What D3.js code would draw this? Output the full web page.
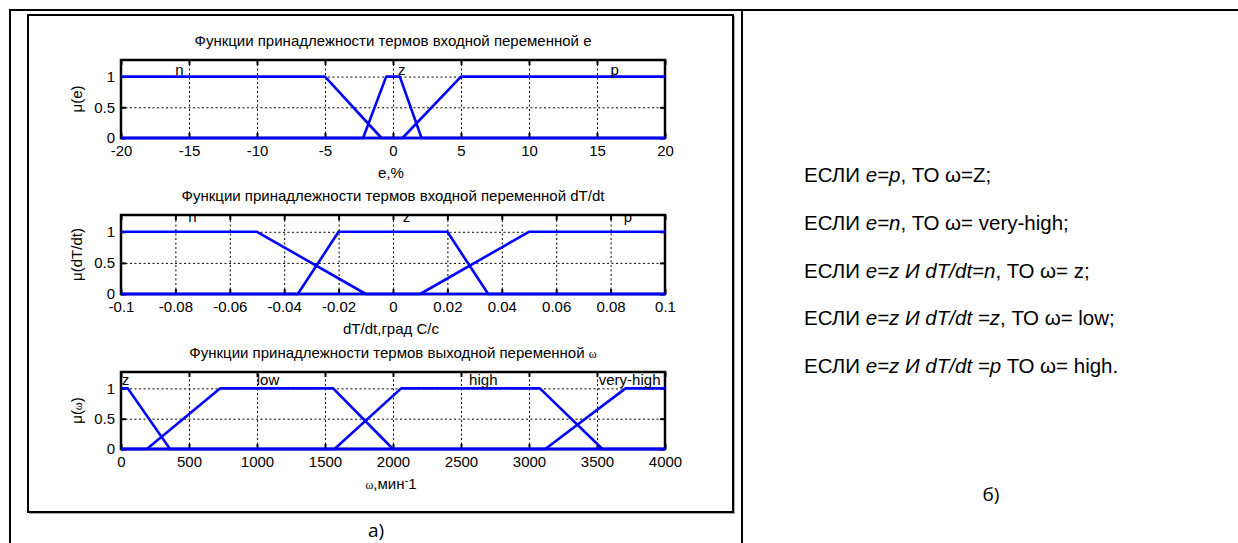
<!DOCTYPE html>
<html>
<head>
<meta charset="utf-8">
<script src="https://cdn.jsdelivr.net/npm/d3@7"></script>
<style>
  html, body { margin: 0; padding: 0; background: #fff; }
  svg { display: block; }
  text { font-family: "Liberation Sans", Arial, sans-serif; fill: #000; }
</style>
</head>
<body>
<svg id="chart" width="1238" height="543"></svg>
<script>
// ---------------- DATA ----------------
const yTicks = [0, 0.5, 1];
const yTickLabels = ["0", "0.5", "1"];

const eTicks = [-20, -15, -10, -5, 0, 5, 10, 15, 20];
const eTickLabels = ["-20", "-15", "-10", "-5", "0", "5", "10", "15", "20"];
const eTerms = ["n", "z", "p"];
const eParams = [[-20, -20, -5, -0.85], [-2.2, -0.5, 0.5, 2.1], [0.7, 5, 20, 20]];
const eLabelX = [-15.7, 0.65, 16.3];

const dTicks = [-0.1, -0.08, -0.06, -0.04, -0.02, 0, 0.02, 0.04, 0.06, 0.08, 0.1];
const dTickLabels = ["-0.1", "-0.08", "-0.06", "-0.04", "-0.02", "0", "0.02", "0.04", "0.06", "0.08", "0.1"];
const dTerms = ["n", "z", "p"];
const dParams = [[-0.1, -0.1, -0.05, -0.01], [-0.035, -0.02, 0.02, 0.035], [0.01, 0.05, 0.1, 0.1]];
const dLabelX = [-0.0737, 0.005, 0.0864];

const wTicks = [0, 500, 1000, 1500, 2000, 2500, 3000, 3500, 4000];
const wTickLabels = ["0", "500", "1000", "1500", "2000", "2500", "3000", "3500", "4000"];
const wTerms = ["z", "low", "high", "very-high"];
const wParams = [[0, 0, 50, 360], [190, 730, 1560, 2000], [1570, 2060, 3080, 3540], [3120, 3710, 4000, 4000]];
const wLabelX = [33, 1081, 2664, 3740];

const titles = [
  [["Функции принадлежности термов входной переменной e", false]],
  [["Функции принадлежности термов входной переменной dT/dt", false]],
  [["Функции принадлежности термов выходной переменной ", false], ["ω", true]]
];
const yLabels = [
  [["μ(e)", false]],
  [["μ(dT/dt)", false]],
  [["μ(", false], ["ω", true], [")", false]]
];

const rules = [
  [["ЕСЛИ ", 0], ["e=p", 1], [", ТО ω=Z;", 0]],
  [["ЕСЛИ ", 0], ["e=n", 1], [", ТО ω= very-high;", 0]],
  [["ЕСЛИ ", 0], ["e=z И dT/dt=n", 1], [", ТО ω= z;", 0]],
  [["ЕСЛИ ", 0], ["e=z И dT/dt =z", 1], [", ТО ω= low;", 0]],
  [["ЕСЛИ ", 0], ["e=z И dT/dt =p", 1], [" ТО ω= high.", 0]]
];

// ---------------- LAYOUT ----------------
const svg = d3.select("#chart");
svg.append("rect").attr("width", 1238).attr("height", 543).attr("fill", "#fff");

// table lines
const tbl = svg.append("g").attr("stroke", "#000").attr("stroke-width", 2);
tbl.append("line").attr("x1", 10).attr("x2", 1238).attr("y1", 10).attr("y2", 10);
tbl.append("line").attr("x1", 10).attr("x2", 10).attr("y1", 9).attr("y2", 543);
tbl.append("line").attr("x1", 742).attr("x2", 742).attr("y1", 9).attr("y2", 543);

// inner figure frame
svg.append("rect").attr("x", 29.5).attr("y", 16.5).attr("width", 705).attr("height", 497)
  .attr("fill", "none").attr("stroke", "#aaa").attr("stroke-width", 1);
svg.append("rect").attr("x", 28).attr("y", 15).attr("width", 705).attr("height", 497)
  .attr("fill", "#fff").attr("stroke", "#000").attr("stroke-width", 2);

svg.append("text").attr("x", 376).attr("y", 537).attr("text-anchor", "middle")
  .style("font-family", "'Open Sans', 'Noto Sans', sans-serif").style("font-size", "19px").text("а)");
svg.append("text").attr("x", 991).attr("y", 501).attr("text-anchor", "middle")
  .style("font-family", "'Open Sans', 'Noto Sans', sans-serif").style("font-size", "19px").text("б)");

const L = 121, R = 665;
const panels = [
  { top: 60, bottom: 138, dom: [-20, 20], ticks: eTicks, tl: eTickLabels, terms: eTerms, params: eParams, lx: eLabelX, ly: 1.03, xlab: "e,%" },
  { top: 215, bottom: 294, dom: [-0.1, 0.1], ticks: dTicks, tl: dTickLabels, terms: dTerms, params: dParams, lx: dLabelX, ly: 1.15, xlab: "dT/dt,град С/с" },
  { top: 372, bottom: 449, dom: [0, 4000], ticks: wTicks, tl: wTickLabels, terms: wTerms, params: wParams, lx: wLabelX, ly: 1.06, xlab: null }
];

function trap(p, x) {
  const [a, b, c, d] = p;
  if (x < a || x > d) return 0;
  if (x >= b && x <= c) return 1;
  if (x < b) return (x - a) / (b - a);
  return (d - x) / (d - c);
}

panels.forEach((P, i) => {
  const x = d3.scaleLinear().domain(P.dom).range([L, R]);
  const y = d3.scaleLinear().domain([0, 1.27]).range([P.bottom, P.top]);
  const h = P.bottom - P.top;
  const g = svg.append("g");
  const fs = "15px";

  const clipId = "clip" + i;
  svg.append("clipPath").attr("id", clipId).append("rect")
    .attr("x", L).attr("y", P.top + 1).attr("width", R - L).attr("height", h);

  // grid (dotted)
  const gx = g.append("g").attr("transform", `translate(0,${P.bottom})`)
    .call(d3.axisBottom(x).tickValues(P.ticks.slice(1, -1)).tickSize(-h).tickFormat(""));
  gx.select(".domain").remove();
  gx.selectAll("line").attr("stroke", "#000").attr("stroke-width", 1).attr("stroke-dasharray", "2,2.5");
  const gy = g.append("g").attr("transform", `translate(${L},0)`)
    .call(d3.axisLeft(y).tickValues([0.5, 1]).tickSize(-(R - L)).tickFormat(""));
  gy.select(".domain").remove();
  gy.selectAll("line").attr("stroke", "#000").attr("stroke-width", 1).attr("stroke-dasharray", "2,2.5");

  // box
  g.append("rect").attr("x", L).attr("y", P.top).attr("width", R - L).attr("height", h)
    .attr("fill", "none").attr("stroke", "#000").attr("stroke-width", 2.5);

  // axes with inward ticks
  const ab = g.append("g").attr("transform", `translate(0,${P.bottom})`)
    .call(d3.axisBottom(x).tickValues(P.ticks).tickSizeInner(-5).tickSizeOuter(0).tickPadding(7)
      .tickFormat((d, k) => P.tl[k]));
  const at = g.append("g").attr("transform", `translate(0,${P.top})`)
    .call(d3.axisTop(x).tickValues(P.ticks).tickSizeInner(-5).tickSizeOuter(0).tickFormat(""));
  const al = g.append("g").attr("transform", `translate(${L},0)`)
    .call(d3.axisLeft(y).tickValues(yTicks).tickSizeInner(-5).tickSizeOuter(0).tickPadding(6)
      .tickFormat((d, k) => yTickLabels[k]));
  const ar = g.append("g").attr("transform", `translate(${R},0)`)
    .call(d3.axisRight(y).tickValues(yTicks).tickSizeInner(-5).tickSizeOuter(0).tickFormat(""));
  [ab, at, al, ar].forEach(a => {
    a.select(".domain").remove();
    a.selectAll("line").attr("stroke", "#000").attr("stroke-width", 2);
    a.selectAll("text").style("font-size", fs).style("font-family", "'Liberation Sans', Arial, sans-serif").attr("fill", "#000");
  });

  // membership lines
  const line = d3.line().x(d => x(d[0])).y(d => y(d[1]));
  P.params.forEach(p => {
    const xs = Array.from(new Set([P.dom[0], ...p.filter(v => v >= P.dom[0] && v <= P.dom[1]), P.dom[1]])).sort((a, b) => a - b);
    const pts = xs.map(v => [v, trap(p, v)]);
    g.append("path").datum(pts).attr("d", line).attr("fill", "none")
      .attr("stroke", "#0000ff").attr("stroke-width", 2.6).attr("stroke-linejoin", "round");
  });

  // term labels
  const lg = g.append("g").attr("clip-path", `url(#${clipId})`);
  P.terms.forEach((t, k) => {
    lg.append("text").attr("x", x(P.lx[k])).attr("y", y(P.ly)).attr("text-anchor", "middle")
      .style("font-size", fs).text(t);
  });

  // title
  const tt = g.append("text").attr("x", (L + R) / 2).attr("y", P.top - 14).attr("text-anchor", "middle").style("font-size", fs);
  titles[i].forEach(([s, greek]) => {
    const ts = tt.append("tspan").text(s);
    if (greek) ts.style("font-family", "'Liberation Serif', serif").style("font-size", "12px");
  });

  // y label
  const yl = g.append("text").attr("transform", `translate(82,${(P.top + P.bottom) / 2}) rotate(-90)`)
    .attr("text-anchor", "middle").style("font-size", fs);
  yLabels[i].forEach(([s, greek]) => {
    const ts = yl.append("tspan").text(s);
    if (greek) ts.style("font-family", "'Liberation Serif', serif").style("font-size", "12px");
  });

  // x label
  const xl = g.append("text").attr("x", (L + R) / 2 - 2).attr("y", P.bottom + 40).attr("text-anchor", "middle").style("font-size", fs);
  if (P.xlab) {
    xl.text(P.xlab);
  } else {
    xl.append("tspan").text("ω").style("font-family", "'Liberation Serif', serif").style("font-size", "12px");
    xl.append("tspan").text(",мин");
    xl.append("tspan").text("-").attr("dy", -5).style("font-size", "11px");
    xl.append("tspan").text("1").attr("dy", 5);
  }
});

// rules text (right panel)
rules.forEach((r, i) => {
  const t = svg.append("text").attr("x", 804).attr("y", 182 + i * 47.8).style("font-size", "20.5px");
  r.forEach(([s, it]) => {
    const ts = t.append("tspan").text(s);
    if (it) ts.style("font-style", "italic");
  });
});
</script>
</body>
</html>
